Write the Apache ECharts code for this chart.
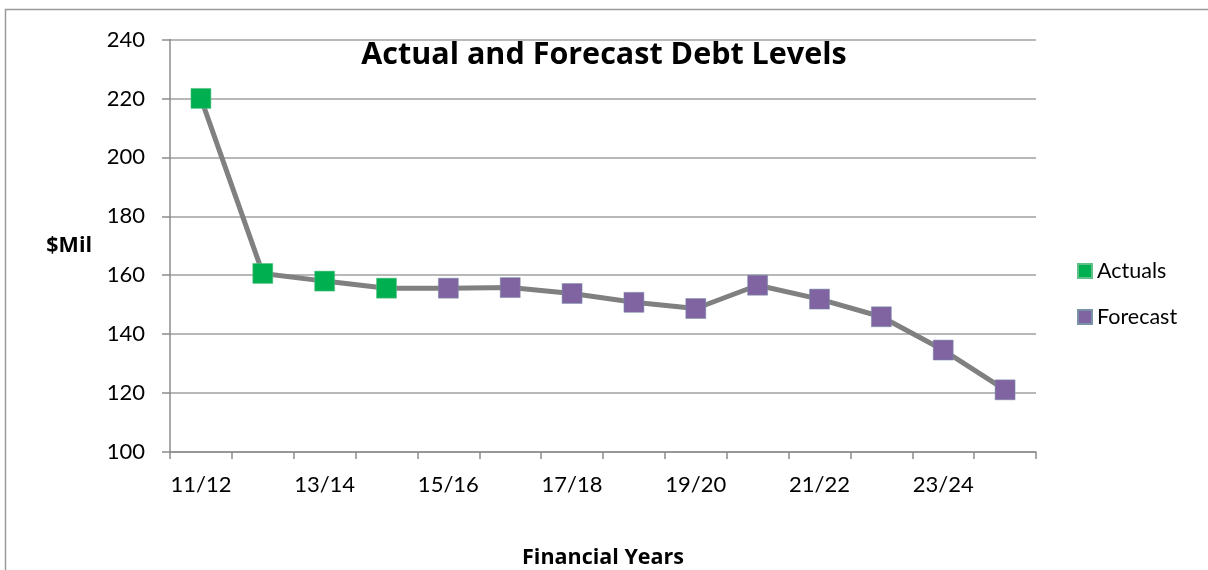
<!DOCTYPE html>
<html>
<head>
<meta charset="utf-8">
<script src="https://cdn.jsdelivr.net/npm/echarts@6/dist/echarts.min.js"></script>
<style>
html,body{margin:0;padding:0;background:#fff;}
#c{width:1208px;height:570px;}
</style>
</head>
<body>
<div id="c"></div>
<script>
const categories = ['11/12','12/13','13/14','14/15','15/16','16/17','17/18','18/19','19/20','20/21','21/22','22/23','23/24','24/25'];
const actuals = [220, 160.6, 158, 155.6];
const forecast = [155.6, 155.8, 153.8, 150.8, 148.7, 156.6, 151.9, 145.9, 134.6, 121.1];
const yTicks = {min: 100, max: 240, interval: 20};

const FONT = 'Lato';
const BOLD = 'Open Sans';
const allValues = actuals.concat(forecast);
const actualsSeries = actuals.concat(forecast.map(() => null));
const forecastSeries = actuals.map(() => null).concat(forecast);

const chart = echarts.init(document.getElementById('c'), null, {renderer: 'canvas'});
chart.setOption({
  backgroundColor: '#fff',
  animation: false,
  textStyle: {fontFamily: FONT},
  graphic: [{
    type: 'rect',
    shape: {x: 5.5, y: 9.5, width: 1220, height: 580},
    style: {fill: 'none', stroke: '#9a9a9a', lineWidth: 1.5},
    silent: true, z: -1
  }],
  title: {
    text: 'Actual and Forecast Debt Levels',
    left: 'center',
    top: 35,
    textStyle: {fontFamily: BOLD, fontSize: 30.5, fontWeight: 'bold', color: '#000'}
  },
  legend: {
    orient: 'vertical',
    left: 1072,
    top: 255,
    itemWidth: 14,
    itemHeight: 14,
    itemGap: 24,
    icon: 'rect',
    data: ['Actuals', 'Forecast'],
    textStyle: {fontFamily: FONT, fontSize: 21.5, color: '#000', lineHeight: 22}
  },
  grid: {left: 170, right: 172, top: 39.5, bottom: 118, containLabel: false, outerBoundsMode: 'none'},
  xAxis: {
    type: 'category',
    data: categories,
    boundaryGap: true,
    name: 'Financial Years',
    nameLocation: 'middle',
    nameGap: 95,
    nameTextStyle: {fontFamily: BOLD, fontSize: 21.5, fontWeight: 'bold', color: '#000'},
    axisLine: {lineStyle: {color: '#8c8c8c', width: 1.5}},
    axisTick: {show: true, interval: 0, length: 7, alignWithLabel: false, lineStyle: {color: '#8c8c8c', width: 1.5}},
    axisLabel: {interval: 1, margin: 22, fontSize: 22, color: '#000', fontFamily: FONT},
    splitLine: {show: false}
  },
  yAxis: {
    type: 'value',
    min: yTicks.min, max: yTicks.max, interval: yTicks.interval,
    name: '$Mil',
    nameLocation: 'middle',
    nameRotate: 0,
    nameGap: 78,
    nameTextStyle: {fontFamily: BOLD, fontSize: 21.5, fontWeight: 'bold', color: '#000', padding: [4, 0, 0, 0]},
    axisLine: {show: true, lineStyle: {color: '#8c8c8c', width: 1.5}},
    axisTick: {show: true, length: 8, lineStyle: {color: '#8c8c8c', width: 1.5}},
    axisLabel: {margin: 25, fontSize: 22, color: '#000', fontFamily: FONT},
    splitLine: {show: true, lineStyle: {color: '#a0a0a0', width: 1.5}}
  },
  series: [
    {
      name: 'Debt', type: 'line', data: allValues,
      symbol: 'none', silent: true,
      lineStyle: {color: '#808080', width: 5},
      z: 2
    },
    {
      name: 'Actuals', type: 'line', data: actualsSeries,
      symbol: 'rect', symbolSize: 20, connectNulls: false,
      lineStyle: {width: 0, opacity: 0},
      itemStyle: {color: '#00b050', borderColor: '#5fc08a', borderWidth: 0.5},
      z: 3
    },
    {
      name: 'Forecast', type: 'line', data: forecastSeries,
      symbol: 'rect', symbolSize: 20, connectNulls: false,
      lineStyle: {width: 0, opacity: 0},
      itemStyle: {color: '#8064a2', borderColor: '#7a92a8', borderWidth: 0.5},
      z: 3
    }
  ]
});
</script>
</body>
</html>
